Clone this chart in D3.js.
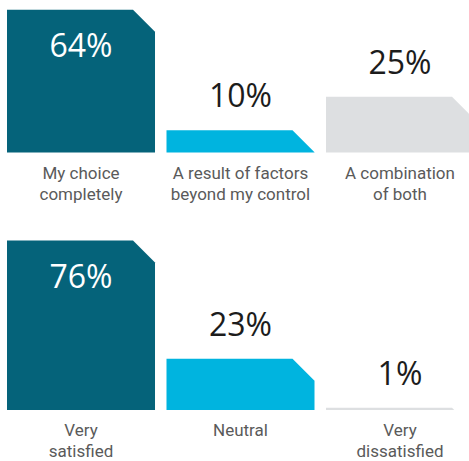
<!DOCTYPE html>
<html>
<head>
<meta charset="utf-8">
<script src="https://cdn.jsdelivr.net/npm/d3@7"></script>
<style>
  html, body { margin: 0; padding: 0; background: #ffffff; }
  svg { display: block; }
</style>
</head>
<body>
<svg id="chart" width="469" height="461"></svg>
<script>
// ---- Data ----
const categoriesTop = ["My choice completely", "A result of factors beyond my control", "A combination of both"];
const labelLinesTop = [["My choice", "completely"], ["A result of factors", "beyond my control"], ["A combination", "of both"]];
const valuesTop = [64, 10, 25];

const categoriesBottom = ["Very satisfied", "Neutral", "Very dissatisfied"];
const labelLinesBottom = [["Very", "satisfied"], ["Neutral"], ["Very", "dissatisfied"]];
const valuesBottom = [76, 23, 1];

const barColors = ["#05637a", "#00b4df", "#dddfe1"];

// ---- Drawing ----
const svg = d3.select("#chart");
const chamfer = 22;

const y = d3.scaleLinear().domain([0, 100]).range([0, 223]);

function drawPanel(categories, lines, values, baseline) {
  const x = d3.scaleBand()
    .domain(categories)
    .range([7, 474])
    .paddingInner(0.072)
    .paddingOuter(0);

  const g = svg.append("g");
  const data = categories.map((c, i) => ({ cat: c, value: values[i], lines: lines[i], i }));

  g.selectAll("path.bar")
    .data(data)
    .join("path")
    .attr("class", "bar")
    .attr("fill", d => barColors[d.i])
    .attr("d", d => {
      const x0 = x(d.cat), w = x.bandwidth();
      const h = y(d.value);
      const top = baseline - h;
      const c = chamfer;
      const p = d3.path();
      p.moveTo(x0, baseline);
      p.lineTo(x0, top);
      p.lineTo(x0 + w - c, top);
      if (h >= c) {
        p.lineTo(x0 + w, top + c);
        p.lineTo(x0 + w, baseline);
      } else {
        p.lineTo(x0 + w - c + h, baseline);
      }
      p.closePath();
      return p.toString();
    });

  g.selectAll("text.val")
    .data(data)
    .join("text")
    .attr("class", "val")
    .attr("x", d => x(d.cat) + x.bandwidth() / 2)
    .attr("y", d => {
      const top = baseline - y(d.value);
      return d.i === 0 ? top + 47 : top - 23;
    })
    .attr("text-anchor", "middle")
    .attr("font-family", "'Open Sans', sans-serif")
    .attr("font-weight", 400)
    .attr("font-size", 32)
    .attr("fill", d => d.i === 0 ? "#ffffff" : "#1c1c1c")
    .text(d => d.value + "%");

  const lab = g.selectAll("text.cat")
    .data(data)
    .join("text")
    .attr("class", "cat")
    .attr("x", d => x(d.cat) + x.bandwidth() / 2)
    .attr("y", baseline + 26)
    .attr("text-anchor", "middle")
    .attr("font-family", "Roboto, sans-serif")
    .attr("font-size", 17)
    .attr("fill", "#5a5a5a");

  lab.selectAll("tspan")
    .data(d => d.lines.map(l => ({ l, x: x(d.cat) + x.bandwidth() / 2 })))
    .join("tspan")
    .attr("x", t => t.x)
    .attr("dy", (t, j) => j === 0 ? 0 : 21)
    .text(t => t.l);
}

drawPanel(categoriesTop, labelLinesTop, valuesTop, 152.5);
drawPanel(categoriesBottom, labelLinesBottom, valuesBottom, 410);
</script>
</body>
</html>
